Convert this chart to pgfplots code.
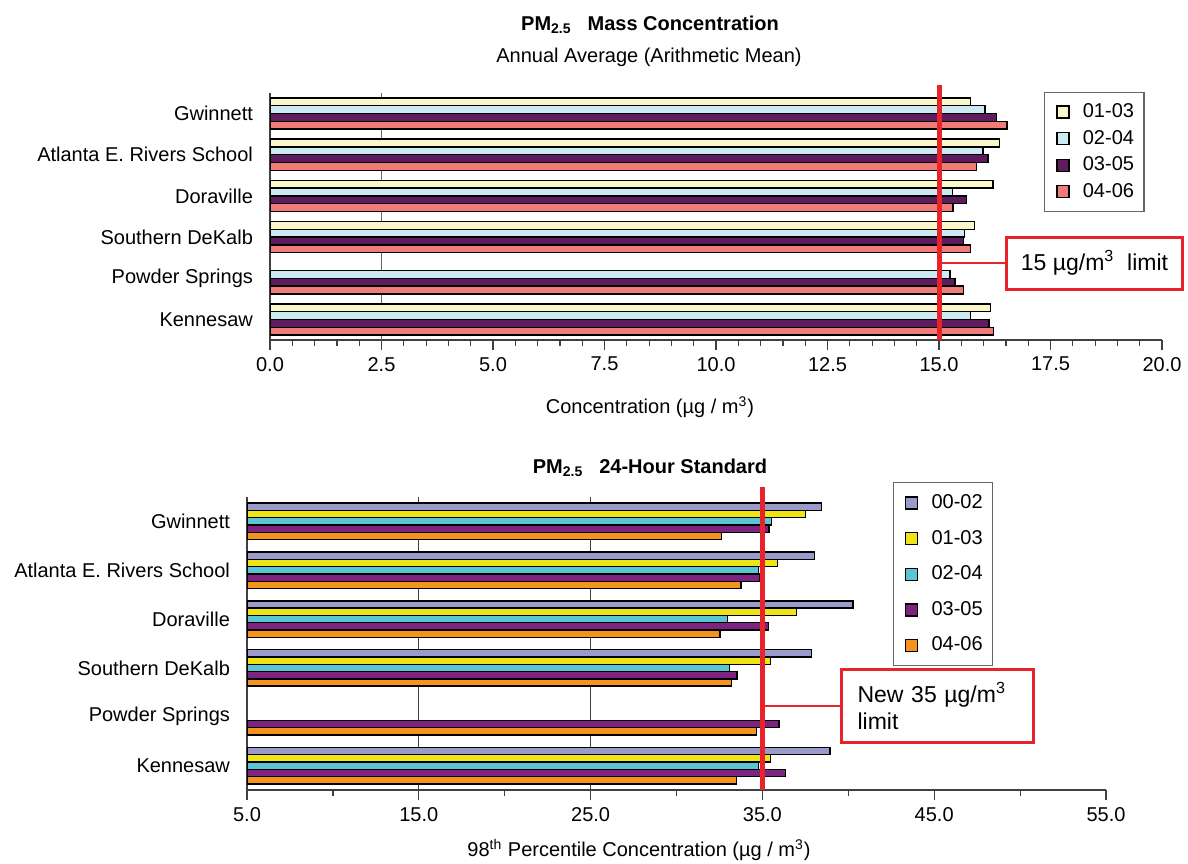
\documentclass[border=0pt]{standalone}
\usepackage{pgfplots}
\pgfplotsset{compat=1.18}
\usepackage{fontspec}
\setmainfont{Liberation Sans}
\definecolor{tA}{HTML}{FAF7C8}
\definecolor{tB}{HTML}{CDE9F2}
\definecolor{tC}{HTML}{5E1B5E}
\definecolor{tD}{HTML}{F07C7A}
\definecolor{bA}{HTML}{9A9ACB}
\definecolor{bB}{HTML}{EEE416}
\definecolor{bC}{HTML}{5CC5D4}
\definecolor{bD}{HTML}{7E237F}
\definecolor{bE}{HTML}{F4941E}
\definecolor{lim}{HTML}{E8242B}
\pgfplotsset{
  common/.style={
    scale only axis, anchor=south west,
    axis x line*=bottom, axis y line*=left,
    axis line style={line width=0.7pt, black!75},
    tick style={line width=0.6pt, black!75},
    major tick length=5pt, minor tick length=3pt,
    tick align=outside,
    /pgf/number format/assume math mode=true,
    tick label style={font=\fontsize{10}{12}\selectfont},
    xticklabel style={/pgf/number format/.cd, fixed, fixed zerofill, precision=1},
    ymin=-0.5, ymax=5.5,
    ytick={0,1,2,3,4,5},
    yticklabels={Kennesaw, Powder Springs, Southern DeKalb, Doraville, Atlanta E. Rivers School, Gwinnett},
    y tick style={draw=none},
    extra y ticks={-0.5,0.5,1.5,2.5,3.5,4.5,5.5},
    extra y tick labels={},
    extra y tick style={tick style={draw=black!75, line width=0.6pt}},
    xbar=0pt,
    every axis plot/.append style={draw=black, line width=0.7pt},
    legend image code/.code={\draw[##1,draw=black,line width=0.7pt] (3pt,-3pt) rectangle (9pt,3pt); \path[draw=none,fill=none] (0pt,0pt) rectangle (14pt,0.1pt);},
    reverse legend,
    legend cell align=left,
    legend style={draw=black!60, line width=0.6pt, font=\fontsize{10}{12}\selectfont,
      anchor=north west, inner xsep=3pt},
  }
}
\begin{document}
\begin{tikzpicture}
\useasboundingbox (0,0) rectangle (594pt,431.5pt);
% ---------- top chart ----------
\node[font=\bfseries\fontsize{10}{12}\selectfont] at (325pt,419pt) {PM\textsubscript{2.5}\hspace{0.8em}Mass Concentration};
\node[font=\fontsize{10}{12}\selectfont] at (324.5pt,403pt) {Annual Average (Arithmetic Mean)};
\begin{axis}[common,
  at={(135pt,261.5pt)}, width=446pt, height=123.5pt,
  xmin=0, xmax=20, xtick={0,2.5,...,20}, minor x tick num=4,
  extra x ticks={2.5}, extra x tick labels={},
  extra x tick style={grid=major, major grid style={black!60, line width=0.6pt}},
  bar width=3.9pt,
  legend style={at={(0.868,1.004)}, row sep=0.8pt, inner ysep=3.5pt},
]
\addplot[fill=tD] coordinates {(16.52,5) (15.84,4) (15.31,3) (15.70,2) (15.55,1) (16.22,0)};
\addplot[fill=tC] coordinates {(16.29,5) (16.10,4) (15.61,3) (15.55,2) (15.36,1) (16.12,0)};
\addplot[fill=tB] coordinates {(16.03,5) (15.99,4) (15.30,3) (15.57,2) (15.25,1) (15.70,0)};
\addplot[fill=tA] coordinates {(15.71,5) (16.36,4) (16.21,3) (15.79,2) (16.16,0)};
\legend{04-06,03-05,02-04,01-03}
\coordinate (tbot) at (axis cs:15,-0.5);
\coordinate (ttop) at (axis cs:15,5.5);
\coordinate (tcon) at (axis cs:15,1.37);
\coordinate (tbox) at (axis cs:16.48,1.37);
\end{axis}
\draw[lim, line width=2.5pt] (tbot) -- ([yshift=4pt]ttop);
\draw[lim, line width=1.2pt] (tcon) -- (tbox) node[anchor=west, draw=lim, text=black, line width=1.5pt, fill=white,
  minimum width=88pt, minimum height=26pt, font=\fontsize{11.5}{13}\selectfont] {15 µg/m\textsuperscript{3}\ \ limit};
\node[font=\fontsize{10}{12}\selectfont] at (325pt,228pt) {Concentration (µg / m\textsuperscript{3})};
% ---------- bottom chart ----------
\node[font=\bfseries\fontsize{10}{12}\selectfont] at (325pt,197.5pt) {PM\textsubscript{2.5}\hspace{0.8em}24-Hour Standard};
\begin{axis}[common,
  at={(123.5pt,36.5pt)}, width=429.5pt, height=146.5pt,
  xmin=5, xmax=55, xtick={5,15,...,55}, minor x tick num=1,
  extra x ticks={15,25}, extra x tick labels={},
  extra x tick style={grid=major, major grid style={black!75, line width=0.6pt}},
  bar width=3.65pt,
  legend style={at={(0.752,1.051)}, row sep=5.3pt, inner ysep=4pt},
]
\addplot[fill=bE] coordinates {(32.63,5) (33.75,4) (32.53,3) (33.21,2) (34.67,1) (33.50,0)};
\addplot[fill=bD] coordinates {(35.38,5) (34.86,4) (35.34,3) (33.52,2) (35.97,1) (36.36,0)};
\addplot[fill=bC] coordinates {(35.54,5) (34.78,4) (32.98,3) (33.07,2) (34.77,0)};
\addplot[fill=bB] coordinates {(37.52,5) (35.89,4) (37.00,3) (35.48,2) (35.48,0)};
\addplot[fill=bA] coordinates {(38.45,5) (38.04,4) (40.27,3) (37.87,2) (38.93,0)};
\legend{04-06,03-05,02-04,01-03,00-02}
\coordinate (bbot) at (axis cs:35,-0.5);
\coordinate (btop) at (axis cs:35,5.5);
\coordinate (bcon) at (axis cs:35,1.22);
\coordinate (bbox) at (axis cs:39.52,1.22);
\end{axis}
\draw[lim, line width=2.5pt] (bbot) -- ([yshift=5pt]btop);
\draw[lim, line width=1.2pt] (bcon) -- (bbox) node[anchor=west, draw=lim, text=black, line width=1.5pt, fill=white,
  minimum width=96pt, minimum height=36.5pt, text width=80pt, align=left,
  font=\fontsize{11.5}{13.5}\selectfont] {New 35 µg/m\textsuperscript{3}\\limit};
\node[font=\fontsize{10}{12}\selectfont] at (319.5pt,6.5pt) {98\textsuperscript{th} Percentile Concentration (µg / m\textsuperscript{3})};
\end{tikzpicture}
\end{document}
